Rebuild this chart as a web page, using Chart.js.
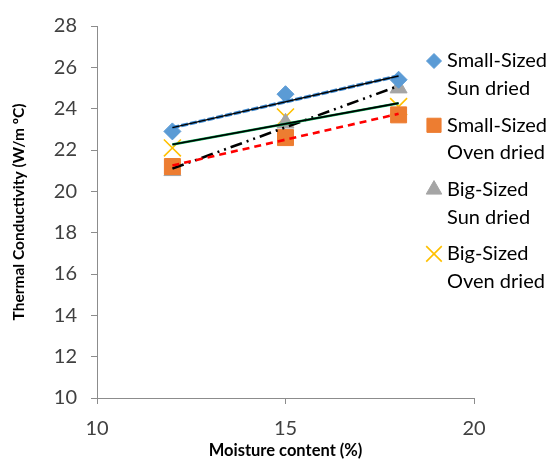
<!DOCTYPE html>
<html>
<head>
<meta charset="utf-8">
<title>Thermal Conductivity vs Moisture content</title>
<script src="https://cdn.jsdelivr.net/npm/chart.js@4/dist/chart.umd.min.js"></script>
<style>
  html, body { margin: 0; padding: 0; background: #ffffff; }
  canvas { display: block; }
</style>
</head>
<body>
<canvas id="chart" width="555" height="461"></canvas>
<script>
// Moisture content (%) levels
const moisture = [12, 15, 18];

// Thermal conductivity (W/m ºC) for each sample group
const smallSun = [22.9, 24.7, 25.4];
const smallOven = [21.2, 22.6, 23.7];
const bigSun = [21.0, 23.3, 25.0];
const bigOven = [22.1, 23.6, 24.1];

const seriesLabels = [
  ['Small-Sized', 'Sun dried'],
  ['Small-Sized', 'Oven dried'],
  ['Big-Sized', 'Sun dried'],
  ['Big-Sized', 'Oven dried']
];

const yTicks = [10, 12, 14, 16, 18, 20, 22, 24, 26, 28];
const xTicks = [10, 15, 20];

const FONT = 'Lato, "Liberation Sans", sans-serif';

function points(xs, ys) {
  return xs.map((x, i) => ({ x: x, y: ys[i] }));
}

// least-squares straight line, evaluated at the first and last x
function linearTrend(xs, ys) {
  const n = xs.length;
  const mx = xs.reduce((a, b) => a + b, 0) / n;
  const my = ys.reduce((a, b) => a + b, 0) / n;
  let sxy = 0, sxx = 0;
  for (let i = 0; i < n; i++) {
    sxy += (xs[i] - mx) * (ys[i] - my);
    sxx += (xs[i] - mx) * (xs[i] - mx);
  }
  const slope = sxy / sxx;
  const icpt = my - slope * mx;
  const x0 = xs[0], x1 = xs[n - 1];
  return [{ x: x0, y: icpt + slope * x0 }, { x: x1, y: icpt + slope * x1 }];
}

function trend(data, color, width, dash) {
  return {
    data: data,
    showLine: true,
    borderColor: color,
    borderWidth: width,
    borderDash: dash || [],
    pointRadius: 0,
    pointHoverRadius: 0,
    fill: false,
    order: 0
  };
}

const markerDatasets = [
  { label: seriesLabels[0], data: points(moisture, smallSun), pointStyle: 'rectRot', pointRadius: 8.5,
    backgroundColor: '#5B9BD5', borderColor: '#5B9BD5', pointBorderWidth: 1, order: 1 },
  { label: seriesLabels[1], data: points(moisture, smallOven), pointStyle: 'rect', pointRadius: 11.3,
    backgroundColor: '#ED7D31', borderColor: '#ED7D31', pointBorderWidth: 1, order: 1 },
  { label: seriesLabels[2], data: points(moisture, bigSun), pointStyle: 'triangle', pointRadius: 9.8,
    backgroundColor: '#A5A5A5', borderColor: '#A5A5A5', pointBorderWidth: 1, order: 1 },
  { label: seriesLabels[3], data: points(moisture, bigOven), pointStyle: 'crossRot', pointRadius: 12,
    backgroundColor: '#FFC000', borderColor: '#FFC000', pointBorderWidth: 1.6, order: 1 }
];

// earlier entries are painted last, so the thin black strokes come first
const trendDatasets = [
  trend(linearTrend(moisture, smallSun), '#000000', 1.5),
  trend(linearTrend(moisture, smallSun), '#3A87D0', 3.4, [7, 2]),
  trend(linearTrend(moisture, bigOven), '#000000', 1.6),
  trend(linearTrend(moisture, bigOven), '#00A651', 2.6),
  trend(linearTrend(moisture, smallOven), '#FF0000', 2.6, [7, 5]),
  trend(linearTrend(moisture, bigSun), '#000000', 2.6, [12, 5, 2, 5, 2, 5])
];

// Legend drawn at the right of the plot, two text lines per entry
const sideLegend = {
  id: 'sideLegend',
  afterDraw(chart) {
    const ctx = chart.ctx;
    const markerX = 434, textX = 447, top = 61, entryGap = 64.3, lineGap = 27.5;
    ctx.save();
    ctx.font = '20px ' + FONT;
    ctx.fillStyle = '#000000';
    ctx.textBaseline = 'middle';
    ctx.textAlign = 'left';
    markerDatasets.forEach((ds, i) => {
      const y = top + i * entryGap;
      ctx.save();
      ctx.fillStyle = ds.backgroundColor;
      ctx.strokeStyle = ds.borderColor;
      ctx.lineWidth = ds.pointBorderWidth;
      const r = ds.pointStyle === 'rectRot' ? 7.5 : ds.pointStyle === 'rect' ? 10 : ds.pointStyle === 'triangle' ? 9 : 11;
      Chart.helpers.drawPoint(ctx, { pointStyle: ds.pointStyle, radius: r, borderWidth: ds.pointBorderWidth, rotation: 0 }, markerX, y);
      ctx.restore();
      ds.label.forEach((line, k) => {
        ctx.fillText(line, textX, y + k * lineGap);
      });
    });
    ctx.restore();
  }
};

new Chart(document.getElementById('chart'), {
  type: 'scatter',
  data: { datasets: trendDatasets.concat(markerDatasets) },
  options: {
    responsive: false,
    animation: false,
    events: [],
    layout: { padding: { top: 19.5, right: 81, left: 0, bottom: 0 } },
    plugins: {
      legend: { display: false },
      tooltip: { enabled: false }
    },
    scales: {
      x: {
        type: 'linear',
        min: 10,
        max: 20,
        afterBuildTicks(scale) { scale.ticks = xTicks.map(v => ({ value: v })); },
        afterFit(scale) { scale.height = 63; },
        border: { display: true, color: '#8C8C8C', width: 1 },
        grid: { display: true, drawOnChartArea: false, drawTicks: true, tickLength: 6, color: '#8C8C8C' },
        ticks: { color: '#404040', font: { family: FONT, size: 20 }, padding: 13, maxRotation: 0 },
        title: {
          display: true,
          text: 'Moisture content (%)',
          color: '#000000',
          font: { family: FONT, size: 16.5, weight: 'bold' },
          padding: { top: 0, bottom: 0 }
        }
      },
      y: {
        type: 'linear',
        min: 10,
        max: 28,
        afterBuildTicks(scale) { scale.ticks = yTicks.map(v => ({ value: v })); },
        afterFit(scale) { scale.width = 97; },
        border: { display: true, color: '#8C8C8C', width: 1 },
        grid: { display: true, drawOnChartArea: false, drawTicks: true, tickLength: 6, color: '#8C8C8C' },
        ticks: { color: '#404040', font: { family: FONT, size: 20 }, padding: 14 },
        title: {
          display: true,
          text: 'Thermal Conductivity (W/m ºC)',
          color: '#000000',
          font: { family: FONT, size: 15.5, weight: 'bold' },
          padding: { top: 10, bottom: 0 }
        }
      }
    }
  },
  plugins: [sideLegend]
});
</script>
</body>
</html>
